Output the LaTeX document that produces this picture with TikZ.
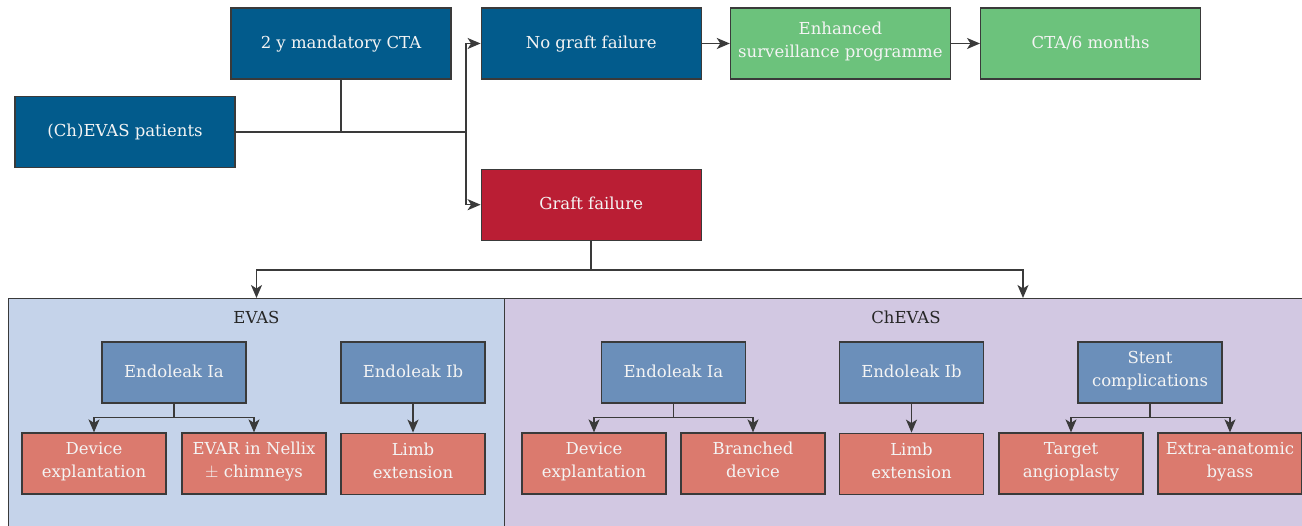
\documentclass[tikz,border=0pt]{standalone}
\usepackage{fontspec}
\setmainfont{DejaVu Serif}
\usetikzlibrary{positioning,calc,arrows.meta}
\definecolor{darkblue}{HTML}{025B8C}
\definecolor{darkgreen}{HTML}{6CC27C}
\definecolor{darkred}{HTML}{BA1E34}
\definecolor{midblue}{HTML}{6B8FBA}
\definecolor{salmon}{HTML}{DB7A6E}
\definecolor{evasbg}{HTML}{C5D3EA}
\definecolor{chevasbg}{HTML}{D2C8E2}
\definecolor{edge}{HTML}{3A3A3A}
\definecolor{boxtext}{HTML}{F4F4F4}

\begin{document}
\begin{tikzpicture}[
            x=1pt, y=-1pt,
            node distance=29pt,
            font=\fontsize{16.5}{23}\selectfont,
            topbox/.style={rectangle, draw=edge, line width=1.2pt, minimum width=220pt,
                       minimum height=71pt, align=center, text=boxtext, inner sep=2pt,
                       execute at begin node=\strut, execute at end node=\strut},
            subbox/.style={topbox, minimum width=144pt, minimum height=61pt},
            panel/.style={rectangle, draw=edge, line width=1pt, anchor=north west,
                       minimum height=240pt},
            paneltitle/.style={text=black!85},
            line/.style={draw=edge, line width=1.5pt},
            arrow/.style={line, -{Stealth[length=13pt,width=11pt,inset=3.5pt]}}
        ]
            \useasboundingbox (0,0) rectangle (1302,526);

            % Top flow
            \node[topbox, fill=darkblue] (cta) at (341,43.5) {2 y mandatory CTA};
            \node[topbox, fill=darkblue] (patients) at (125,132) {(Ch)EVAS patients};
            \node[topbox, fill=darkblue, right=of cta] (nofail) {No graft failure};
            \node[topbox, fill=darkgreen, right=28pt of nofail] (enhanced) {Enhanced\\surveillance programme};
            \node[topbox, fill=darkgreen, right=of enhanced] (cta6) {CTA/6 months};
            \node[topbox, fill=darkred, below=89pt of nofail] (graft) {Graft failure};

            % Panels
            \node[panel, fill=evasbg, minimum width=496pt] (evas) at (8,298) {};
            \node[panel, fill=chevasbg, minimum width=806pt] (chevas) at (504,298) {};
            \node[paneltitle] at ($(evas.north)+(0,19)$) {EVAS};
            \node[paneltitle] at (906,317) {ChEVAS};

            % EVAS boxes
            \node[subbox, fill=midblue] (iaA) at (174,372.5) {Endoleak Ia};
            \node[subbox, fill=midblue] (ibA) at (413,372.5) {Endoleak Ib};
            \node[subbox, fill=salmon] (devA) at (94,463.5) {Device\\explantation};
            \node[subbox, fill=salmon] (evar) at (254,463.5) {EVAR in Nellix\\$\pm$ chimneys};
            \node[subbox, fill=salmon, below=of ibA] (limbA) {Limb\\extension};

            % ChEVAS boxes
            \node[subbox, fill=midblue] (iaB) at (673.5,372.5) {Endoleak Ia};
            \node[subbox, fill=midblue] (ibB) at (911.5,372.5) {Endoleak Ib};
            \node[subbox, fill=midblue] (stent) at (1150,372.5) {Stent\\complications};
            \node[subbox, fill=salmon] (devB) at (594,463.5) {Device\\explantation};
            \node[subbox, fill=salmon] (branched) at (753,463.5) {Branched\\device};
            \node[subbox, fill=salmon, below=of ibB] (limbB) {Limb\\extension};
            \node[subbox, fill=salmon] (target) at (1071,463.5) {Target\\angioplasty};
            \node[subbox, fill=salmon] (extra) at (1230,463.5) {Extra-anatomic\\byass};

            % Top connectors
            \coordinate (fork) at (466,132);
            \draw[line] (patients.east) -- (fork);
            \draw[line] (cta.south) -- (cta.south |- fork);
            \draw[arrow] (fork) |- (nofail.west);
            \draw[arrow] (fork) |- (graft.west);
            \draw[arrow] (nofail) -- (enhanced);
            \draw[arrow] (enhanced) -- (cta6);

            % Graft failure to panels
            \coordinate (split) at ($(graft.south)+(0,29)$);
            \coordinate (chevasin) at (1023,298);
            \draw[line] (graft.south) -- (split);
            \draw[arrow] (split) -| (evas.north);
            \draw[arrow] (split) -| (chevasin);

            % Panel connectors
            \draw[arrow] (iaA.south) -- ++(0,14) -| (devA.north);
            \draw[arrow] (iaA.south) -- ++(0,14) -| (evar.north);
            \draw[arrow] (ibA) -- (limbA);
            \draw[arrow] (iaB.south) -- ++(0,14) -| (devB.north);
            \draw[arrow] (iaB.south) -- ++(0,14) -| (branched.north);
            \draw[arrow] (ibB) -- (limbB);
            \draw[arrow] (stent.south) -- ++(0,14) -| (target.north);
            \draw[arrow] (stent.south) -- ++(0,14) -| (extra.north);
        \end{tikzpicture}
\end{document}
